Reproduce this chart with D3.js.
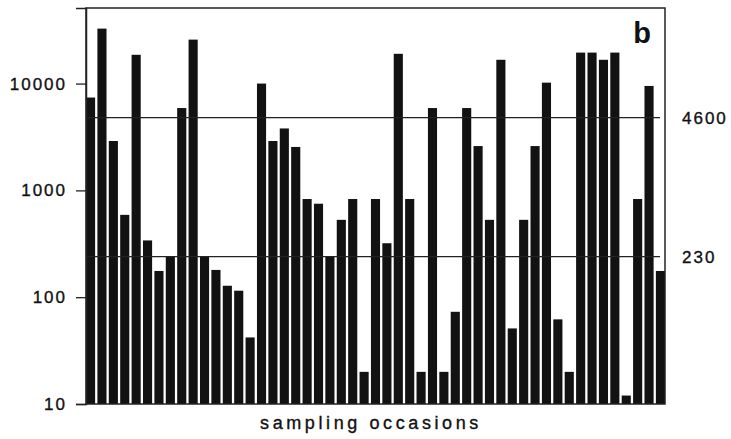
<!DOCTYPE html>
<html>
<head>
<meta charset="utf-8">
<script src="https://cdn.jsdelivr.net/npm/d3@7/dist/d3.min.js"></script>
<style>
  body { margin: 0; background: #fff; }
  text { font-family: "Liberation Sans", Arial, sans-serif; fill: #111; }
</style>
</head>
<body>
<div id="chartArea"></div>
<script>
// one bar per sampling occasion
var occasions = d3.range(1, 52);
var counts = [
    7400, 32700, 2900, 590, 18600, 340, 176, 240, 5900, 25800,
    240, 180, 128, 115, 42, 10000, 2900, 3800, 2550, 830,
    750, 240, 530, 830, 20, 830, 320, 19000, 830, 20,
    5900, 20, 73, 5900, 2600, 530, 16700, 51, 530, 2600,
    10200, 62, 20, 19500, 19500, 16700, 19500, 12, 830, 9500,
    176
];
var yTicks = [10, 100, 1000, 10000];
var refLines = [4600, 230];

var margin = { top: 8, right: 66, bottom: 35, left: 86 };
var W = 731, H = 439;
var w = W - margin.left - margin.right,
    h = H - margin.top - margin.bottom;

var svg = d3.select('#chartArea').append('svg')
    .attr('width', W)
    .attr('height', H)
    .append('g')
    .attr('transform', 'translate(' + margin.left + ', ' + margin.top + ')');

var xScale = d3.scaleBand()
    .domain(occasions)
    .range([0, w])
    .paddingInner(0.2)
    .paddingOuter(0);

var yScale = d3.scaleLog()
    .domain([10, 51000])
    .range([h, 0]);

// bars
svg.selectAll('rect.bar')
    .data(counts)
    .enter()
    .append('rect')
    .attr('class', 'bar')
    .attr('x', function(d, i) { return xScale(occasions[i]); })
    .attr('y', function(d) { return yScale(d); })
    .attr('width', xScale.bandwidth())
    .attr('height', function(d) { return h - yScale(d); })
    .attr('fill', '#121212');

// reference lines
svg.selectAll('line.ref')
    .data(refLines)
    .enter()
    .append('line')
    .attr('x1', 0)
    .attr('x2', w - 5)
    .attr('y1', function(d) { return yScale(d) - 2; })
    .attr('y2', function(d) { return yScale(d) - 2; })
    .attr('stroke', '#222')
    .attr('stroke-width', 1.3);

svg.selectAll('text.ref')
    .data(refLines)
    .enter()
    .append('text')
    .attr('x', w + 17)
    .attr('y', function(d) { return yScale(d) - 2; })
    .attr('dy', '0.36em')
    .attr('font-size', 17)
    .attr('letter-spacing', 2)
    .attr('stroke', '#111')
    .attr('stroke-width', 0.35)
    .text(function(d) { return d; });

// frame
svg.append('rect')
    .attr('x', 0).attr('y', 0)
    .attr('width', w).attr('height', h)
    .attr('fill', 'none')
    .attr('stroke', '#222')
    .attr('stroke-width', 1.5);

// y axis
var yAxis = d3.axisLeft(yScale)
    .tickValues(yTicks)
    .tickFormat(d3.format('d'))
    .tickSize(10)
    .tickPadding(9);

var ga = svg.append('g').call(yAxis);
ga.select('.domain').attr('stroke', '#222').attr('stroke-width', 1.5);
ga.selectAll('.tick line').attr('stroke', '#222').attr('stroke-width', 1.3);
ga.selectAll('.tick text')
    .attr('font-size', 17)
    .attr('letter-spacing', 2)
    .attr('stroke', '#111')
    .attr('stroke-width', 0.35)
    .style('font-family', '"Liberation Sans", Arial, sans-serif')
    .attr('fill', '#111');

// panel letter
svg.append('text')
    .attr('x', w - 14)
    .attr('y', 35)
    .attr('text-anchor', 'end')
    .attr('font-size', 29)
    .attr('font-weight', 'bold')
    .text('b');

// x label
svg.append('text')
    .attr('x', 371 - margin.left)
    .attr('y', h + 25)
    .attr('text-anchor', 'middle')
    .attr('font-size', 18)
    .attr('letter-spacing', 3.6)
    .attr('stroke', '#111')
    .attr('stroke-width', 0.35)
    .text('sampling occasions');
</script>
</body>
</html>
